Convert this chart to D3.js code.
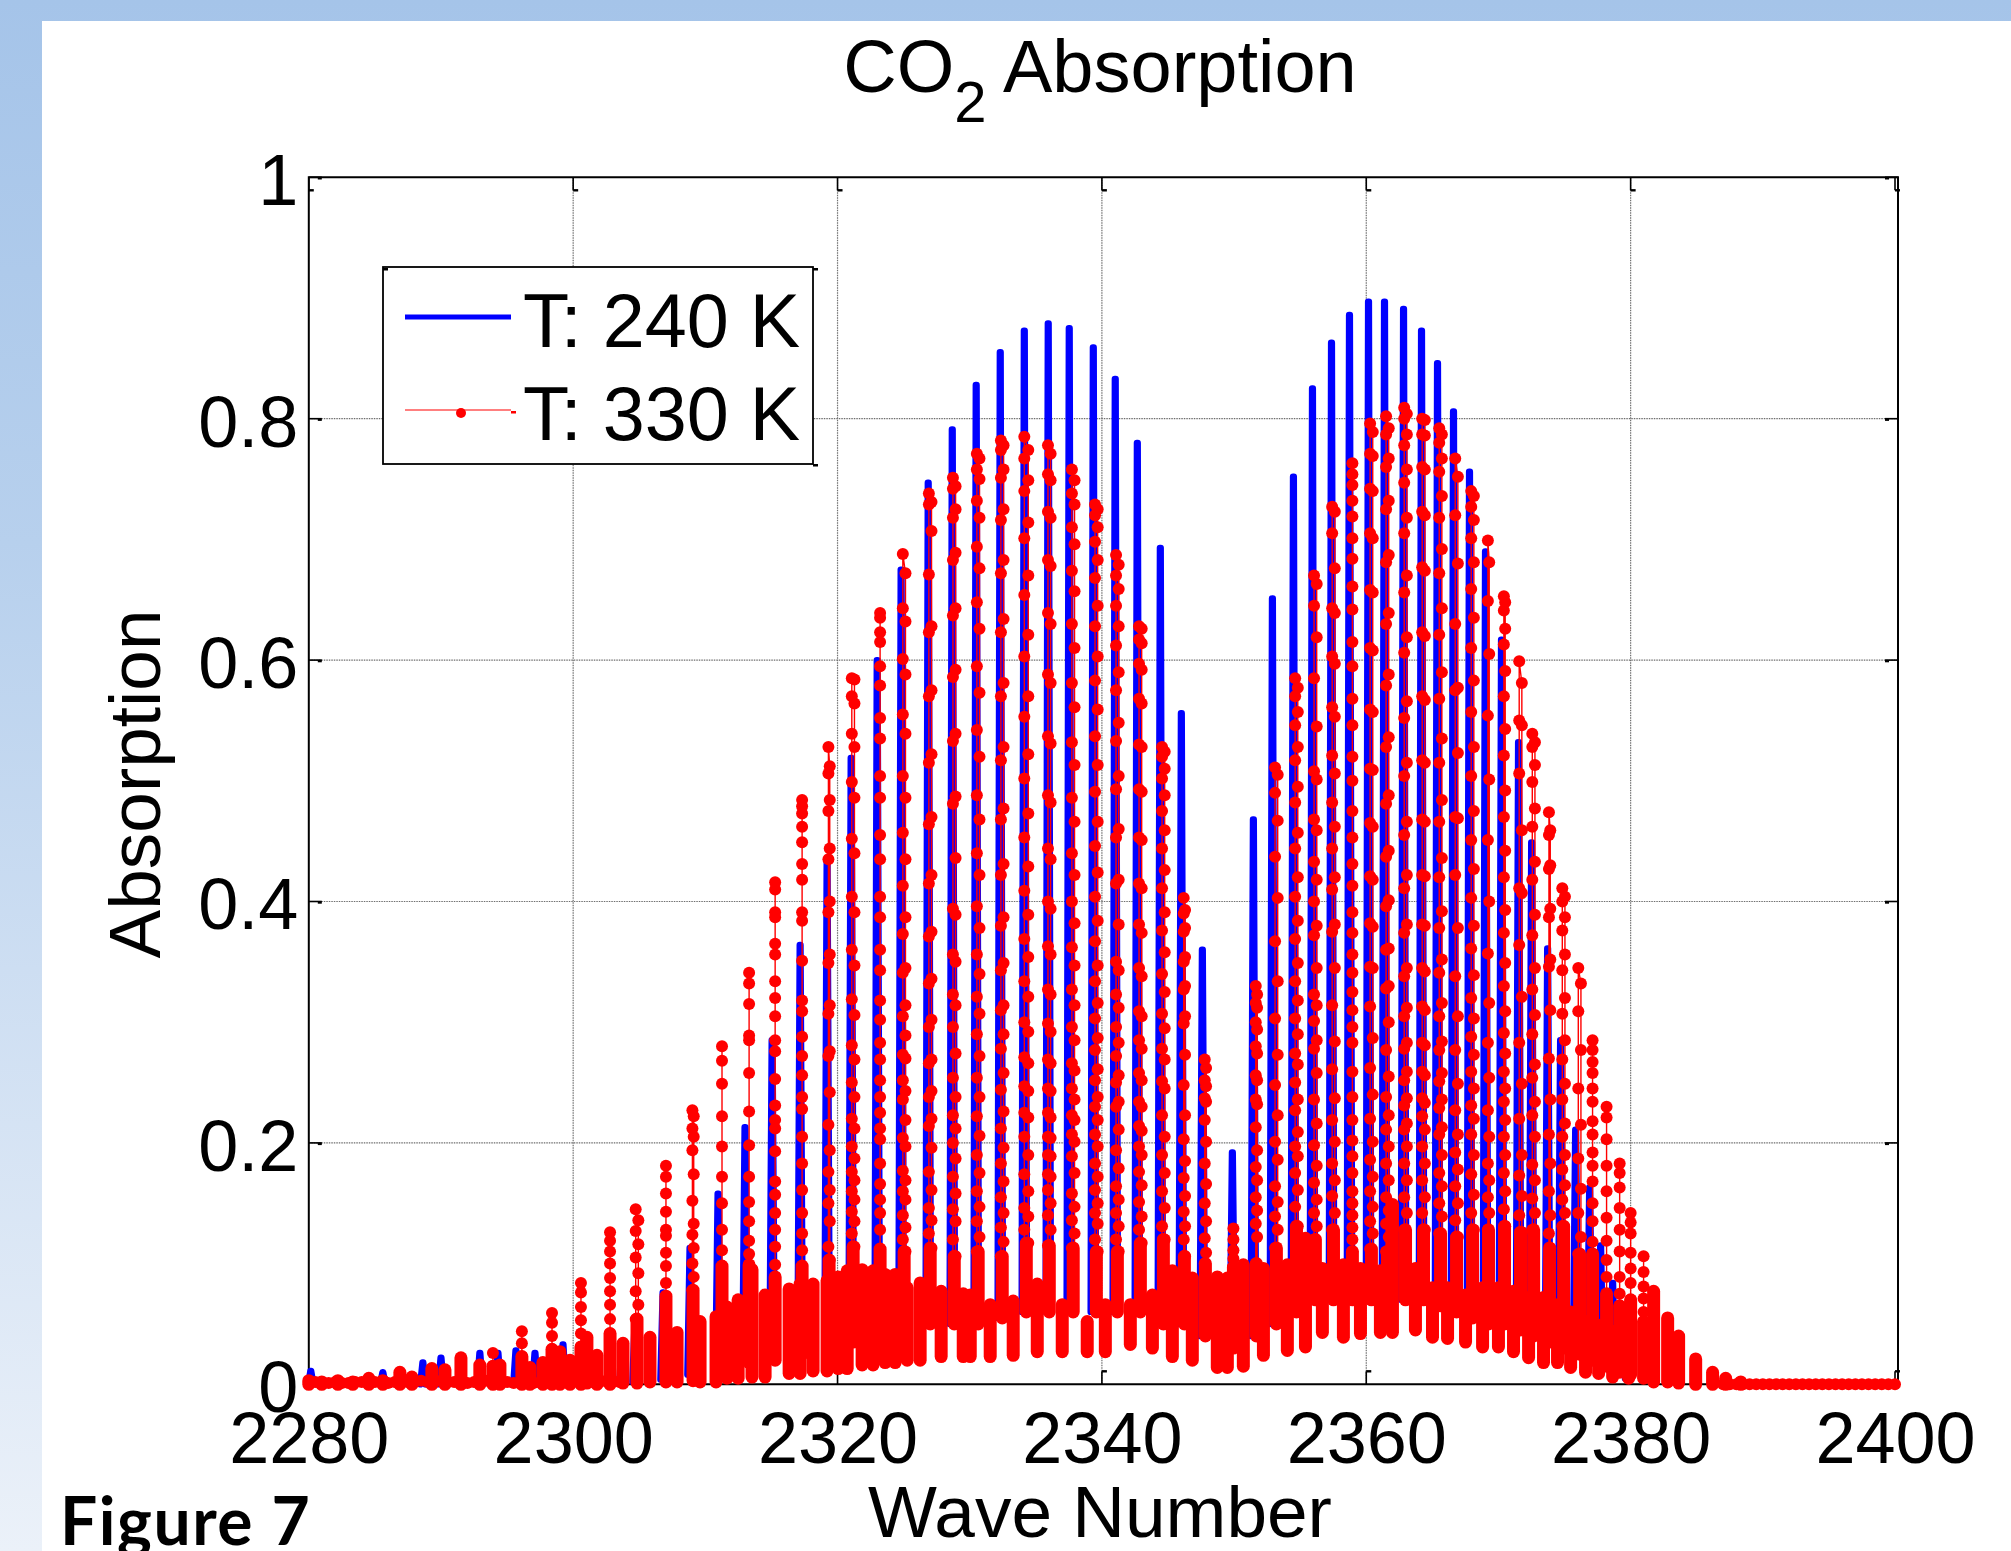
<!DOCTYPE html>
<html><head><meta charset="utf-8">
<script src="https://cdn.jsdelivr.net/npm/d3@7/dist/d3.min.js"></script>
<style>html,body{margin:0;padding:0;background:#fff;overflow:hidden}svg{display:block}text{font-family:"Liberation Sans",Arial,sans-serif;fill:#000}</style>
</head><body><div id="c"></div>
<script>
const xTicks=[2280,2300,2320,2340,2360,2380,2400];
const yTicks=[0,0.2,0.4,0.6,0.8,1];
const seriesNames=["T: 240 K","T: 330 K"];

// 240 K: strong lines
const blueWave=[2280.15,2285.6,2288.63,2290,2292.94,2294.31,2295.67,2297.11,2299.23,2301.04,2302.86,2304.68,2306.8,2308.84,2310.96,2313,2315.05,2317.17,2319.21,2321.03,2323,2324.81,2326.86,2328.68,2330.49,2332.31,2334.13,2335.94,2337.53,2339.35,2341.01,2342.68,2344.42,2346.01,2347.6,2349.87,2351.46,2352.9,2354.49,2355.93,2357.37,2358.73,2360.17,2361.38,2362.82,2364.18,2365.39,2366.6,2367.81,2369.02,2370.23,2371.52,2372.51,2373.72,2374.7,2375.84,2376.9,2377.73,2378.64,2379.77];
const bluePeak=[.011,.010,.018,.022,.026,.026,.028,.026,.033,.028,.037,.052,.076,.113,.158,.213,.285,.364,.433,.519,.600,.675,.747,.791,.828,.855,.873,.879,.875,.859,.833,.780,.693,.556,.360,.192,.468,.651,.752,.825,.863,.886,.897,.897,.891,.873,.846,.806,.756,.690,.617,.532,.449,.361,.285,.211,.163,.115,.084,.056];
const blueFloor=[0,0,0,0,0,0,0,0,0,.001,.001,.002,.004,.008,.012,.018,.02,.025,.03,.035,.04,.045,.05,.05,.05,.055,.06,.06,.06,.06,.06,.06,.05,.05,.04,.03,.04,.05,.06,.07,.07,.07,.07,.07,.07,.07,.065,.06,.055,.05,.05,.045,.04,.035,.03,.025,.02,.015,.01,.005];

// 330 K: strong lines and the sampled points read along each of them
const redWave=[2293.93,2296.12,2298.4,2300.59,2302.79,2304.83,2307.02,2309.07,2311.26,2313.31,2315.28,2317.32,2319.36,2321.18,2323.22,2325.04,2327.01,2328.83,2330.64,2332.46,2334.28,2336.02,2337.83,2339.58,2341.17,2342.91,2344.65,2346.24,2347.83,2349.95,2351.69,2353.2,2354.72,2356.15,2357.52,2358.95,2360.39,2361.6,2362.97,2364.33,2365.62,2366.83,2368.04,2369.25,2370.46,2371.67,2372.66,2373.87,2374.93,2376.14,2377.12,2378.18,2379.17,2380,2380.98];
const redSplit=[0,0,0,0,0,.2,0,.1,0,0,0,0,.1,.2,0,.2,.2,.2,.2,.2,.3,.2,.2,.2,.2,.2,.2,.1,.1,0,.1,.2,.2,.2,.2,0,.2,.2,.2,.2,.2,.2,.2,.1,.1,.2,.2,.1,.2,.2,0,0,0,0,0];
const redFloor=[0,0,0,0,0,.001,.002,.003,.012,.018,.02,.025,.03,.035,.04,.045,.05,.05,.05,.055,.06,.06,.06,.06,.06,.06,.05,.05,.04,.03,.04,.05,.06,.07,.07,.07,.07,.07,.07,.07,.065,.06,.055,.05,.05,.045,.04,.035,.03,.025,.02,.015,.01,.008,.005];
const redLevels=[
[.026,.015],
[.044,.034,.023],
[.059,.051,.040,.029],
[.084,.076,.064,.053,.042,.031],
[.126,.119,.110,.100,.088,.077,.066,.054,.042],
[.145,.136,.127,.116,.105,.092,.077,.066,.054],
[.181,.172,.158,.143,.128,.123,.109,.098,.084,.073],
[.227,.222,.212,.205,.194,.174,.152,.133,.124,.113,.100,.089,.078],
[.280,.268,.249,.222,.197,.172,.150,.128,.111,.098],
[.341,.332,.315,.289,.285,.258,.226,.198,.172,.151,.135,.119,.108,.099],
[.416,.410,.391,.387,.365,.356,.334,.320,.305,.285,.276,.253,.231,.219,.212,.193,.168,.157,.142,.128,.114,.099,.089],
[.484,.479,.473,.462,.449,.431,.418,.391,.384,.351,.318,.309,.288,.272,.256,.238,.228,.205,.183,.161,.142,.125,.111,.098],
[.528,.512,.506,.484,.475,.444,.435,.400,.391,.356,.349,.314,.307,.276,.272,.242,.215,.194,.176,.161,.150,.135,.114,.103],
[.585,.584,.570,.564,.539,.528,.499,.486,.452,.440,.404,.391,.360,.347,.319,.306,.281,.269,.250,.238,.220,.212,.197,.187,.176,.169,.160,.153,.143,.135,.125,.114],
[.639,.635,.623,.615,.595,.579,.552,.535,.504,.486,.455,.435,.404,.387,.360,.343,.318,.302,.283,.269,.252,.238,.225,.212,.203,.183,.166,.153,.142,.128,.112],
[.688,.672,.643,.632,.601,.588,.555,.539,.504,.486,.457,.435,.413,.387,.373,.345,.341,.314,.305,.289,.273,.270,.252,.243,.236,.219,.204,.197,.177,.169,.160,.153,.14,.13,.12,.11],
[.738,.731,.729,.707,.671,.628,.623,.575,.570,.522,.515,.470,.464,.422,.415,.375,.371,.336,.332,.302,.296,.269,.266,.243,.238,.220,.214,.196,.176,.161,.146,.136,.125,.113],
[.751,.744,.742,.725,.718,.689,.683,.643,.637,.592,.586,.539,.533,.487,.481,.436,.394,.389,.356,.350,.323,.314,.296,.274,.254,.238,.223,.212,.200,.187,.172,.158,.145,.135,.120,.106],
[.771,.767,.758,.750,.732,.718,.694,.676,.648,.626,.595,.573,.542,.520,.488,.468,.440,.422,.396,.378,.356,.340,.321,.307,.29,.272,.254,.238,.222,.206,.19,.175,.16,.147,.135,.122,.11],
[.782,.778,.774,.758,.751,.725,.716,.683,.672,.634,.623,.581,.570,.528,.517,.477,.468,.431,.422,.387,.380,.349,.343,.314,.310,.29,.278,.258,.244,.226,.212,.196,.183,.168,.155,.142,.13,.118,.106],
[.785,.774,.767,.749,.740,.714,.701,.670,.654,.621,.603,.570,.553,.522,.502,.473,.453,.429,.409,.389,.369,.354,.334,.321,.300,.292,.271,.266,.247,.243,.225,.221,.205,.190,.174,.160,.146,.139,.128,.117],
[.778,.771,.754,.749,.723,.718,.683,.678,.639,.630,.588,.581,.537,.531,.488,.482,.444,.435,.400,.394,.363,.356,.327,.323,.299,.292,.269,.266,.245,.243,.225,.221,.205,.204,.190,.189,.174,.172,.161,.150,.14,.128,.115],
[.758,.749,.738,.729,.710,.696,.674,.657,.630,.610,.581,.561,.532,.513,.486,.466,.440,.422,.400,.382,.362,.347,.327,.314,.296,.285,.266,.260,.245,.236,.223,.219,.207,.201,.189,.175,.158,.147,.136,.125,.113],
[.729,.725,.720,.710,.698,.683,.668,.645,.628,.603,.583,.559,.537,.513,.491,.466,.446,.424,.404,.384,.367,.347,.334,.316,.303,.287,.277,.261,.252,.238,.230,.219,.207,.197,.183,.172,.161,.150,.142,.133,.12,.11],
[.687,.679,.670,.659,.645,.628,.612,.590,.575,.548,.533,.504,.493,.460,.453,.418,.415,.381,.350,.343,.323,.312,.296,.283,.272,.256,.250,.234,.230,.211,.194,.179,.164,.153,.142,.131,.12,.11],
[.628,.626,.617,.614,.597,.592,.568,.564,.530,.528,.493,.491,.453,.451,.415,.411,.381,.374,.345,.338,.309,.305,.285,.278,.258,.252,.234,.230,.214,.210,.197,.190,.176,.165,.151,.139,.128,.117],
[.528,.524,.520,.510,.502,.488,.475,.459,.444,.426,.411,.391,.376,.358,.340,.325,.307,.295,.278,.269,.251,.245,.223,.205,.190,.175,.160,.146,.131,.12],
[.403,.393,.390,.378,.375,.354,.350,.330,.327,.305,.299,.273,.248,.223,.203,.185,.171,.156,.143,.131,.12,.106],
[.269,.262,.252,.247,.237,.234,.219,.201,.183,.166,.150,.135,.121,.109,.10],
[.129,.120,.111,.104,.097],
[.330,.323,.316,.312,.300,.294,.280,.274,.256,.252,.236,.232,.213,.194,.180,.169,.155,.144,.133,.122,.10],
[.511,.505,.490,.467,.437,.403,.367,.334,.303,.273,.248,.223,.201,.186,.164,.151,.139,.128,.113],
[.585,.577,.570,.557,.546,.528,.517,.495,.482,.457,.444,.420,.404,.384,.369,.349,.334,.318,.303,.290,.274,.265,.250,.236,.227,.209,.197,.189,.175,.161,.147,.131],
[.670,.663,.645,.619,.585,.545,.508,.501,.468,.459,.433,.418,.400,.380,.372,.345,.323,.314,.301,.285,.278,.258,.236,.216,.198,.181,.167,.153,.142,.131,.12],
[.727,.723,.705,.676,.643,.639,.603,.597,.561,.553,.521,.506,.482,.462,.444,.420,.410,.381,.375,.345,.314,.284,.261,.237,.219,.201,.183,.169,.156,.142,.128],
[.763,.754,.745,.732,.719,.701,.684,.661,.642,.615,.595,.568,.546,.520,.500,.475,.453,.431,.413,.391,.374,.356,.341,.325,.310,.296,.283,.259,.238,.219,.202,.189,.175,.16,.15,.14,.13,.12,.11],
[.796,.789,.771,.769,.742,.740,.705,.701,.658,.656,.610,.608,.559,.557,.510,.509,.465,.462,.421,.418,.382,.379,.346,.345,.313,.287,.262,.240,.220,.201,.186,.172,.160,.147,.135,.125,.112],
[.802,.792,.787,.767,.760,.732,.725,.687,.681,.639,.630,.588,.579,.536,.528,.488,.481,.442,.437,.401,.396,.361,.360,.330,.328,.300,.277,.255,.238,.223,.211,.197,.183,.169,.155,.144,.133,.122,.11],
[.809,.804,.800,.787,.778,.758,.747,.718,.705,.670,.656,.619,.606,.566,.552,.515,.504,.466,.455,.422,.411,.381,.374,.345,.338,.312,.305,.283,.278,.259,.252,.237,.231,.216,.211,.197,.183,.169,.155,.142,.128],
[.800,.799,.787,.786,.760,.758,.723,.720,.677,.674,.623,.620,.570,.567,.517,.515,.468,.466,.422,.421,.381,.380,.345,.342,.313,.310,.283,.281,.259,.256,.237,.233,.222,.211,.197,.183,.169,.155,.142,.128],
[.792,.787,.780,.767,.756,.736,.718,.692,.672,.643,.621,.590,.568,.535,.515,.484,.466,.436,.420,.392,.378,.352,.341,.316,.305,.284,.277,.258,.251,.236,.229,.213,.207,.190,.175,.164,.150,.139,.125],
[.767,.752,.720,.680,.630,.577,.575,.523,.470,.469,.422,.378,.338,.305,.277,.249,.227,.207,.192,.178,.164,.150,.136,.122],
[.740,.736,.727,.716,.701,.681,.659,.635,.610,.583,.557,.528,.504,.475,.451,.427,.403,.380,.361,.339,.320,.303,.288,.273,.259,.245,.231,.220,.207,.190,.174,.157,.142,.128],
[.699,.681,.649,.605,.554,.501,.451,.400,.357,.316,.283,.254,.227,.205,.183,.169,.155,.142,.128],
[.653,.648,.641,.626,.613,.591,.570,.543,.521,.492,.470,.442,.420,.393,.374,.349,.330,.309,.291,.274,.259,.245,.234,.219,.205,.190,.175,.160,.145,.131],
[.599,.581,.550,.546,.506,.459,.411,.407,.364,.321,.283,.249,.220,.190,.173,.156,.140,.126],
[.539,.532,.528,.513,.499,.477,.462,.433,.418,.389,.372,.345,.327,.306,.290,.265,.254,.234,.223,.205,.182,.169,.154,.142,.128],
[.474,.459,.455,.430,.427,.394,.387,.352,.346,.310,.270,.236,.207,.183,.160,.140,.125,.113],
[.411,.404,.400,.387,.376,.356,.343,.320,.307,.285,.269,.249,.236,.216,.205,.190,.178,.165,.153,.142,.131],
[.345,.332,.309,.277,.245,.215,.187,.162,.142,.122,.108],
[.285,.277,.267,.258,.245,.234,.218,.207,.192,.181,.168,.150,.135,.118,.108],
[.230,.221,.203,.181,.160,.138,.119,.103,.089,.075],
[.183,.175,.163,.146,.128,.110,.089,.075,.065],
[.142,.134,.125,.109,.096,.084,.07],
[.106,.093,.081,.071,.060,.052]
];

// 330 K: weak lines that merge into the solid band near the base
const massWave=[2280,2280.98,2282.2,2283.33,2284.54,2285.6,2286.89,2287.8,2289.31,2290.3,2291.51,2292.94,2294.46,2296.73,2297.71,2299,2299.76,2301.04,2301.8,2303.77,2305.81,2307.86,2309.6,2310.81,2311.64,2312.48,2313.53,2314.52,2316.34,2317.17,2318.15,2319.21,2320.05,2320.73,2321.86,2322.69,2323.6,2324.36,2325.27,2326.25,2327.84,2329.51,2330.04,2331.55,2333.29,2335.11,2337,2338.89,2340.26,2342.15,2343.82,2345.33,2346.84,2348.73,2349.49,2350.7,2352.22,2354.03,2355.4,2356.68,2358.27,2359.56,2361.07,2361.98,2363.72,2365.01,2366.15,2367.51,2368.8,2370,2371.14,2372.28,2373.41,2374.47,2375.46,2376.59,2377.58,2378.64,2379.85,2381.74,2382.8,2383.63,2384.92,2386.2,2387.19,2388.33];
const massTop=[.003,.002,.003,.002,.005,.003,.010,.006,.013,.012,.022,.016,.016,.014,.018,.027,.020,.039,.024,.034,.039,.043,.052,.056,.064,.070,.095,.074,.079,.083,.083,.086,.089,.094,.095,.094,.091,.091,.080,.084,.077,.075,.074,.066,.069,.083,.066,.052,.066,.066,.074,.094,.088,.089,.088,.099,.096,.099,.121,.096,.099,.096,.094,.149,.096,.08,.08,.074,.08,.08,.077,.072,.072,.066,.06,.052,.049,.044,.038,.077,.055,.040,.021,.01,.005,.002];
const massFloor=[0,0,0,0,0,0,0,0,0,0,0,0,0,0,0,0,0,.001,0,.001,.002,.002,.002,.002,.005,.005,.006,.006,.009,.009,.011,.011,.013,.013,.016,.016,.018,.018,.02,.02,.023,.023,.023,.023,.024,.027,.027,.027,.027,.033,.03,.023,.02,.014,.014,.015,.024,.028,.031,.043,.039,.042,.043,.043,.045,.039,.038,.035,.031,.031,.027,.022,.018,.018,.014,.01,.009,.006,.005,.002,.002,.001,0,0,0,0];

// 330 K: near-zero points along the base at both ends of the band
const headWave=[2280,2280.5,2281,2281.5,2282,2282.5,2283,2283.5,2284,2284.5,2285,2285.5,2286,2286.5,2287,2287.5,2288,2288.5,2289,2289.5,2290,2290.5,2291,2291.5,2292,2292.5,2293,2293.5,2294,2294.5,2295,2295.5,2296,2296.5,2297,2297.5,2298,2298.5,2299,2299.5,2300,2300.5,2301,2301.5,2302,2302.5,2303,2303.5];
const headValue=[.002,.002,.001,.001,.002,.001,.001,.002,.002,.001,.002,.002,.001,.002,.003,.002,.002,.003,.002,.002,.003,.002,.002,.003,.001,.002,.002,.003,.001,.002,.002,.001,.002,.001,.001,.002,.002,.001,.002,.002,.003,.003,.001,.002,.002,.003,.003,.002];
const tailWave=[2387,2387.5,2388,2388.5,2389,2389.5,2390,2390.5,2391,2391.5,2392,2392.5,2393,2393.5,2394,2394.5,2395,2395.5,2396,2396.5,2397,2397.5,2398,2398.5,2399,2399.5,2400];
const tailValue=[0,0,0,0,0,0,0,0,0,0,0,0,0,0,0,0,0,0,0,0,0,0,0,0,0,0,0];

const W=2011,H=1551;
const svg=d3.select("#c").append("svg").attr("width",W).attr("height",H).attr("viewBox",`0 0 ${W} ${H}`);
const defs=svg.append("defs");
const g=defs.append("linearGradient").attr("id","bg").attr("x1",0).attr("y1",0).attr("x2",0).attr("y2",1);
g.append("stop").attr("offset",0).attr("stop-color","#a5c4e9");
g.append("stop").attr("offset",.35).attr("stop-color","#b7d0ed");
g.append("stop").attr("offset",1).attr("stop-color","#ebf1f9");
svg.append("rect").attr("width",W).attr("height",H).attr("fill","url(#bg)");
svg.append("rect").attr("x",42).attr("y",21).attr("width",W-42).attr("height",H-21).attr("fill","#fff");

const L=308.8,R=1895,FR=1898,T=177.3,B=1384.3;
const x=d3.scaleLinear().domain([2280,2400]).range([L,R]);
const y=d3.scaleLinear().domain([0,1]).range([B,T]);

// grid
const gridG=svg.append("g").attr("stroke","#6f6f6f").attr("stroke-width",1.2).attr("stroke-dasharray","1.5 1");
gridG.selectAll(".gx").data(xTicks.slice(1,-1)).join("line").attr("x1",d=>x(d)).attr("x2",d=>x(d)).attr("y1",T).attr("y2",B);
gridG.selectAll(".gy").data(yTicks.slice(1,-1)).join("line").attr("y1",d=>y(d)).attr("y2",d=>y(d)).attr("x1",L).attr("x2",FR);

// frame and inward ticks
const fr=svg.append("g").attr("stroke","#000").attr("fill","none");
fr.append("path").attr("d",`M${L},${B}V${T}H${FR}V${B}H${L}`).attr("stroke-width",2);
const tick=13;
xTicks.forEach(v=>{
  [[B,-1],[T,1]].forEach(([a,s])=>{
    fr.append("path").attr("stroke-width",1.6).attr("d",`M${x(v)},${a}V${a+s*tick}`);
    fr.append("path").attr("stroke-width",2.4).attr("d",`M${x(v)},${a+s*tick}h5`);
  });
});
yTicks.forEach(v=>{
  [[L,1],[FR,-1]].forEach(([a,s])=>{
    fr.append("path").attr("stroke-width",1.6).attr("d",`M${a},${y(v)}H${a+s*tick}`);
    fr.append("path").attr("stroke-width",2.4).attr("d",`M${a+s*tick-s*4},${y(v)+1}h${s*4}`);
  });
});

// axes (labels only)
const fs=72;
const ax=svg.append("g").attr("transform",`translate(0,${B})`).call(d3.axisBottom(x).tickValues(xTicks).tickSize(0).tickPadding(28).tickFormat(d3.format("d")));
ax.select(".domain").remove();
ax.selectAll("text").attr("font-size",fs).attr("font-family","Liberation Sans");
const ay=svg.append("g").attr("transform",`translate(${L},0)`).call(d3.axisLeft(y).tickValues(yTicks).tickSize(0).tickPadding(10.5).tickFormat(d=>String(d)));
ay.select(".domain").remove();
ay.selectAll("text").attr("font-size",fs).attr("font-family","Liberation Sans").attr("dy",".38em");

// blue series
const line=d3.line().x(d=>x(d[0])).y(d=>y(d[1]));
const blueG=svg.append("g").attr("fill","none").attr("stroke","#0000ff").attr("stroke-width",6.4).attr("stroke-linejoin","round").attr("stroke-linecap","round");
blueG.selectAll("path").data(blueWave).join("path").attr("d",(w,i)=>line([[w-.2,blueFloor[i]],[w-.03,bluePeak[i]],[w+.03,bluePeak[i]],[w+.2,blueFloor[i]]]));

// red series
const redG=svg.append("g");
const massG=redG.append("g").attr("stroke","#ff0000").attr("stroke-width",13).attr("stroke-linecap","round").attr("fill","none");
massG.selectAll("path.m").data(massWave).join("path").attr("d",(w,i)=>line([[w,massFloor[i]],[w,massTop[i]]]));
const thinG=redG.append("g").attr("stroke","#ff0000").attr("stroke-width",1.4).attr("fill","none");
const dots=redG.append("g").attr("fill","#ff0000");
const r=6;
redWave.forEach((w,i)=>{
  const lv=redLevels[i].slice().sort(d3.descending);
  const s=redSplit[i]/2;
  const pts=lv.map((v,k)=>[k%2?w+s:w-s,v]);
  const left=pts.filter((p,k)=>k%2===0).reverse();
  const right=pts.filter((p,k)=>k%2===1);
  const lo=lv[lv.length-1];
  thinG.append("path").attr("d",line([[w-s,redFloor[i]],...left,...right,[w+s,redFloor[i]]]));
  massG.append("path").attr("d",line([[w,redFloor[i]],[w,lo]]));
  dots.selectAll(null).data(pts).enter().append("circle").attr("cx",d=>x(d[0])).attr("cy",d=>y(d[1])).attr("r",r);
});
dots.selectAll(".head").data(headWave).enter().append("circle").attr("cx",d=>x(d)).attr("cy",(d,i)=>y(headValue[i])).attr("r",r);
dots.selectAll(".tail").data(tailWave).enter().append("circle").attr("cx",d=>x(d)).attr("cy",(d,i)=>y(tailValue[i])).attr("r",r);

// legend
const lg=svg.append("g");
lg.append("rect").attr("x",383).attr("y",267).attr("width",430).attr("height",197).attr("fill","#fff").attr("stroke","#000").attr("stroke-width",1.8);
[[383,268],[813,268],[813,464]].forEach(p=>lg.append("rect").attr("x",p[0]).attr("y",p[1]).attr("width",5).attr("height",2.5).attr("fill","#000"));
lg.append("line").attr("x1",405).attr("x2",511).attr("y1",317).attr("y2",317).attr("stroke","#0000ff").attr("stroke-width",5);
lg.append("line").attr("x1",405).attr("x2",511).attr("y1",410).attr("y2",410).attr("stroke","#ff0000").attr("stroke-width",1.2);
lg.append("circle").attr("cx",461).attr("cy",413).attr("r",5).attr("fill","#ff0000");
lg.append("rect").attr("x",511).attr("y",411).attr("width",5).attr("height",2.5).attr("fill","#ff0000");
lg.selectAll("text").data(seriesNames).join("text").attr("x",523).attr("y",(d,i)=>[347,440][i]).attr("font-size",75.5).text(d=>d);

// titles
const t=svg.append("text").attr("x",1100).attr("y",92).attr("text-anchor","middle").attr("font-size",74);
t.append("tspan").text("CO");
t.append("tspan").attr("font-size",58).attr("dy",30).text("2");
t.append("tspan").attr("dy",-30).text(" Absorption");
svg.append("text").attr("x",1100).attr("y",1537).attr("text-anchor","middle").attr("font-size",73).text("Wave Number");
svg.append("text").attr("transform","translate(160,784) rotate(-90)").attr("text-anchor","middle").attr("font-size",73).text("Absorption");
svg.append("text").attr("x",60).attr("y",1545).attr("font-size",66).attr("font-weight",700).attr("letter-spacing",1.5).style("font-family","Lato, 'Open Sans', sans-serif").text("Figure 7");
</script></body></html>
